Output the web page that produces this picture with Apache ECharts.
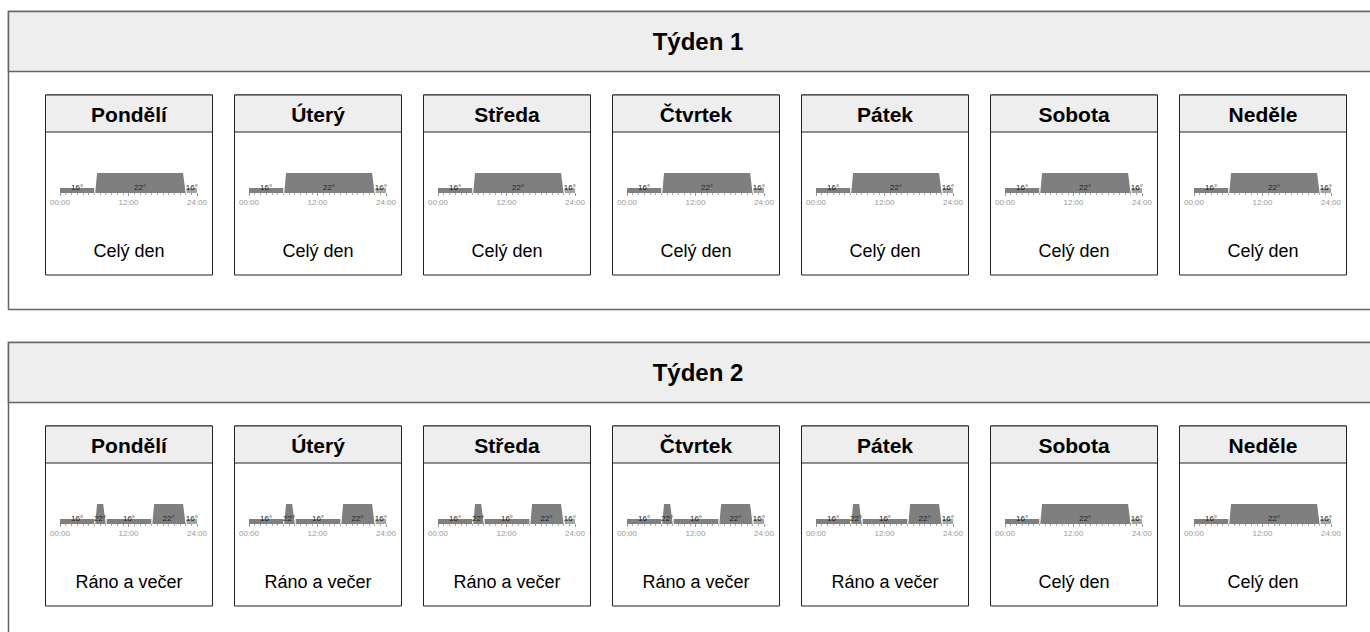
<!DOCTYPE html>
<html>
<head>
<meta charset="utf-8">
<script src="https://cdn.jsdelivr.net/npm/echarts@6/dist/echarts.min.js"></script>
<style>
html,body{margin:0;padding:0;background:#fff;}
#chart{width:1370px;height:632px;}
</style>
</head>
<body>
<div id="chart"></div>
<script>
// ---- data ----
var weekTitles = ['Týden 1', 'Týden 2'];
var dayNames = ['Pondělí', 'Úterý', 'Středa', 'Čtvrtek', 'Pátek', 'Sobota', 'Neděle'];
var week1Programs = ['Celý den', 'Celý den', 'Celý den', 'Celý den', 'Celý den', 'Celý den', 'Celý den'];
var week2Programs = ['Ráno a večer', 'Ráno a večer', 'Ráno a večer', 'Ráno a večer', 'Ráno a večer', 'Celý den', 'Celý den'];
// program segments: start hour, end hour, temperature
var celyDenStart = [0, 6, 22];
var celyDenEnd = [6, 22, 24];
var celyDenTemp = [16, 22, 16];
var ranoVecerStart = [0, 6, 8, 16, 22];
var ranoVecerEnd = [6, 8, 16, 22, 24];
var ranoVecerTemp = [16, 22, 16, 22, 16];

var programs = {
  'Celý den': {s: celyDenStart, e: celyDenEnd, t: celyDenTemp},
  'Ráno a večer': {s: ranoVecerStart, e: ranoVecerEnd, t: ranoVecerTemp}
};
var weekPrograms = [week1Programs, week2Programs];

// ---- layout ----
var FONT = 'Liberation Sans, Arial, sans-serif';
var weekTop = [11.5, 342.5];
var cardLeft0 = 45.5, cardPitch = 189, cardW = 167;
var graphics = [];
var grids = [], xAxes = [], yAxes = [], series = [];

weekTitles.forEach(function (wt, w) {
  var top = weekTop[w];
  graphics.push({type: 'rect', shape: {x: 8.5, y: top, width: 1380, height: w === 0 ? 298 : 400},
    style: {fill: '#fff', stroke: '#666', lineWidth: 1.5}, z: -10});
  graphics.push({type: 'rect', shape: {x: 8.5, y: top, width: 1380, height: 60},
    style: {fill: '#eeeeee', stroke: '#666', lineWidth: 1.5}, z: -9});
  graphics.push({type: 'text', x: 698, y: top + 30, z: -8,
    style: {text: wt, font: 'bold 24px ' + FONT, fill: '#000', textAlign: 'center', textVerticalAlign: 'middle'}});

  var cardTop = top + 83.5;
  dayNames.forEach(function (dn, d) {
    var cx = cardLeft0 + d * cardPitch;
    graphics.push({type: 'rect', shape: {x: cx, y: cardTop, width: cardW, height: 180},
      style: {fill: '#fff', stroke: '#222', lineWidth: 1}, z: -7});
    graphics.push({type: 'rect', shape: {x: cx, y: cardTop, width: cardW, height: 37},
      style: {fill: '#eeeeee', stroke: '#222', lineWidth: 1}, z: -6});
    graphics.push({type: 'text', x: cx + cardW / 2, y: cardTop + 19, z: -5,
      style: {text: dn, font: 'bold 21px ' + FONT, fill: '#000', textAlign: 'center', textVerticalAlign: 'middle'}});
    var pname = weekPrograms[w][d];
    graphics.push({type: 'text', x: cx + cardW / 2, y: cardTop + 156, z: -5,
      style: {text: pname, font: '18px ' + FONT, fill: '#000', textAlign: 'center', textVerticalAlign: 'middle'}});

    var gi = grids.length;
    grids.push({left: cx + 14.5, width: 137, top: cardTop + 73, height: 25, containLabel: false, z: 5});
    xAxes.push({
      gridIndex: gi, type: 'value', min: 0, max: 24, interval: 12, z: 5,
      axisLine: {show: false, onZero: false}, splitLine: {show: false},
      axisTick: {show: true, length: 3, lineStyle: {color: '#999', width: 1}},
      minorTick: {show: true, splitNumber: 12, length: 2, lineStyle: {color: '#aaa', width: 1}},
      axisLabel: {fontSize: 8, color: '#999', margin: 5, fontFamily: FONT,
        formatter: function (v) { return (v < 10 ? '0' : '') + v + ':00'; }}
    });
    yAxes.push({gridIndex: gi, type: 'value', min: 14, max: 24, show: false});
    var p = programs[pname];
    var data = p.s.map(function (s, i) {
      return [s, p.e[i], p.t[i], i > 0 ? p.t[i - 1] : -1, i < p.t.length - 1 ? p.t[i + 1] : -1, i === p.t.length - 1 ? 1 : 0];
    });
    series.push({
      type: 'custom', xAxisIndex: gi, yAxisIndex: gi, data: data, silent: true, z: 6,
      renderItem: function (params, api) {
        var s = api.value(0), e = api.value(1), t = api.value(2), pt = api.value(3), nt = api.value(4), last = api.value(5);
        var b0 = api.coord([s, 14]);
        var b1 = api.coord([e, 14]);
        var y = api.coord([s, t])[1];
        var x0 = b0[0] + (pt > 0 ? 1 : 0);
        var x1 = b1[0];
        var sl = (pt > 0 && pt < t) ? 1.8 : 0;
        var sr = (nt > 0 && nt < t) ? 2.5 : 0;
        var base = b0[1];
        var col = last ? '#a3a3a3' : '#7f7f7f';
        return {
          type: 'group',
          children: [
            {type: 'polygon', shape: {points: [[x0, base], [x0 + sl, y], [x1 - sr, y], [x1, base]]},
              style: {fill: col}},
            {type: 'text', x: (x0 + sl + x1 - sr) / 2, y: base - 5.5,
              style: {text: t + '°', font: '8px ' + FONT, fill: '#222', textAlign: 'center', textVerticalAlign: 'middle'}}
          ]
        };
      }
    });
  });
});

var chart = echarts.init(document.getElementById('chart'), null, {renderer: 'svg'});
chart.setOption({
  animation: false,
  backgroundColor: '#fff',
  graphic: {elements: graphics},
  grid: grids,
  xAxis: xAxes,
  yAxis: yAxes,
  series: series
});
</script>
</body>
</html>
